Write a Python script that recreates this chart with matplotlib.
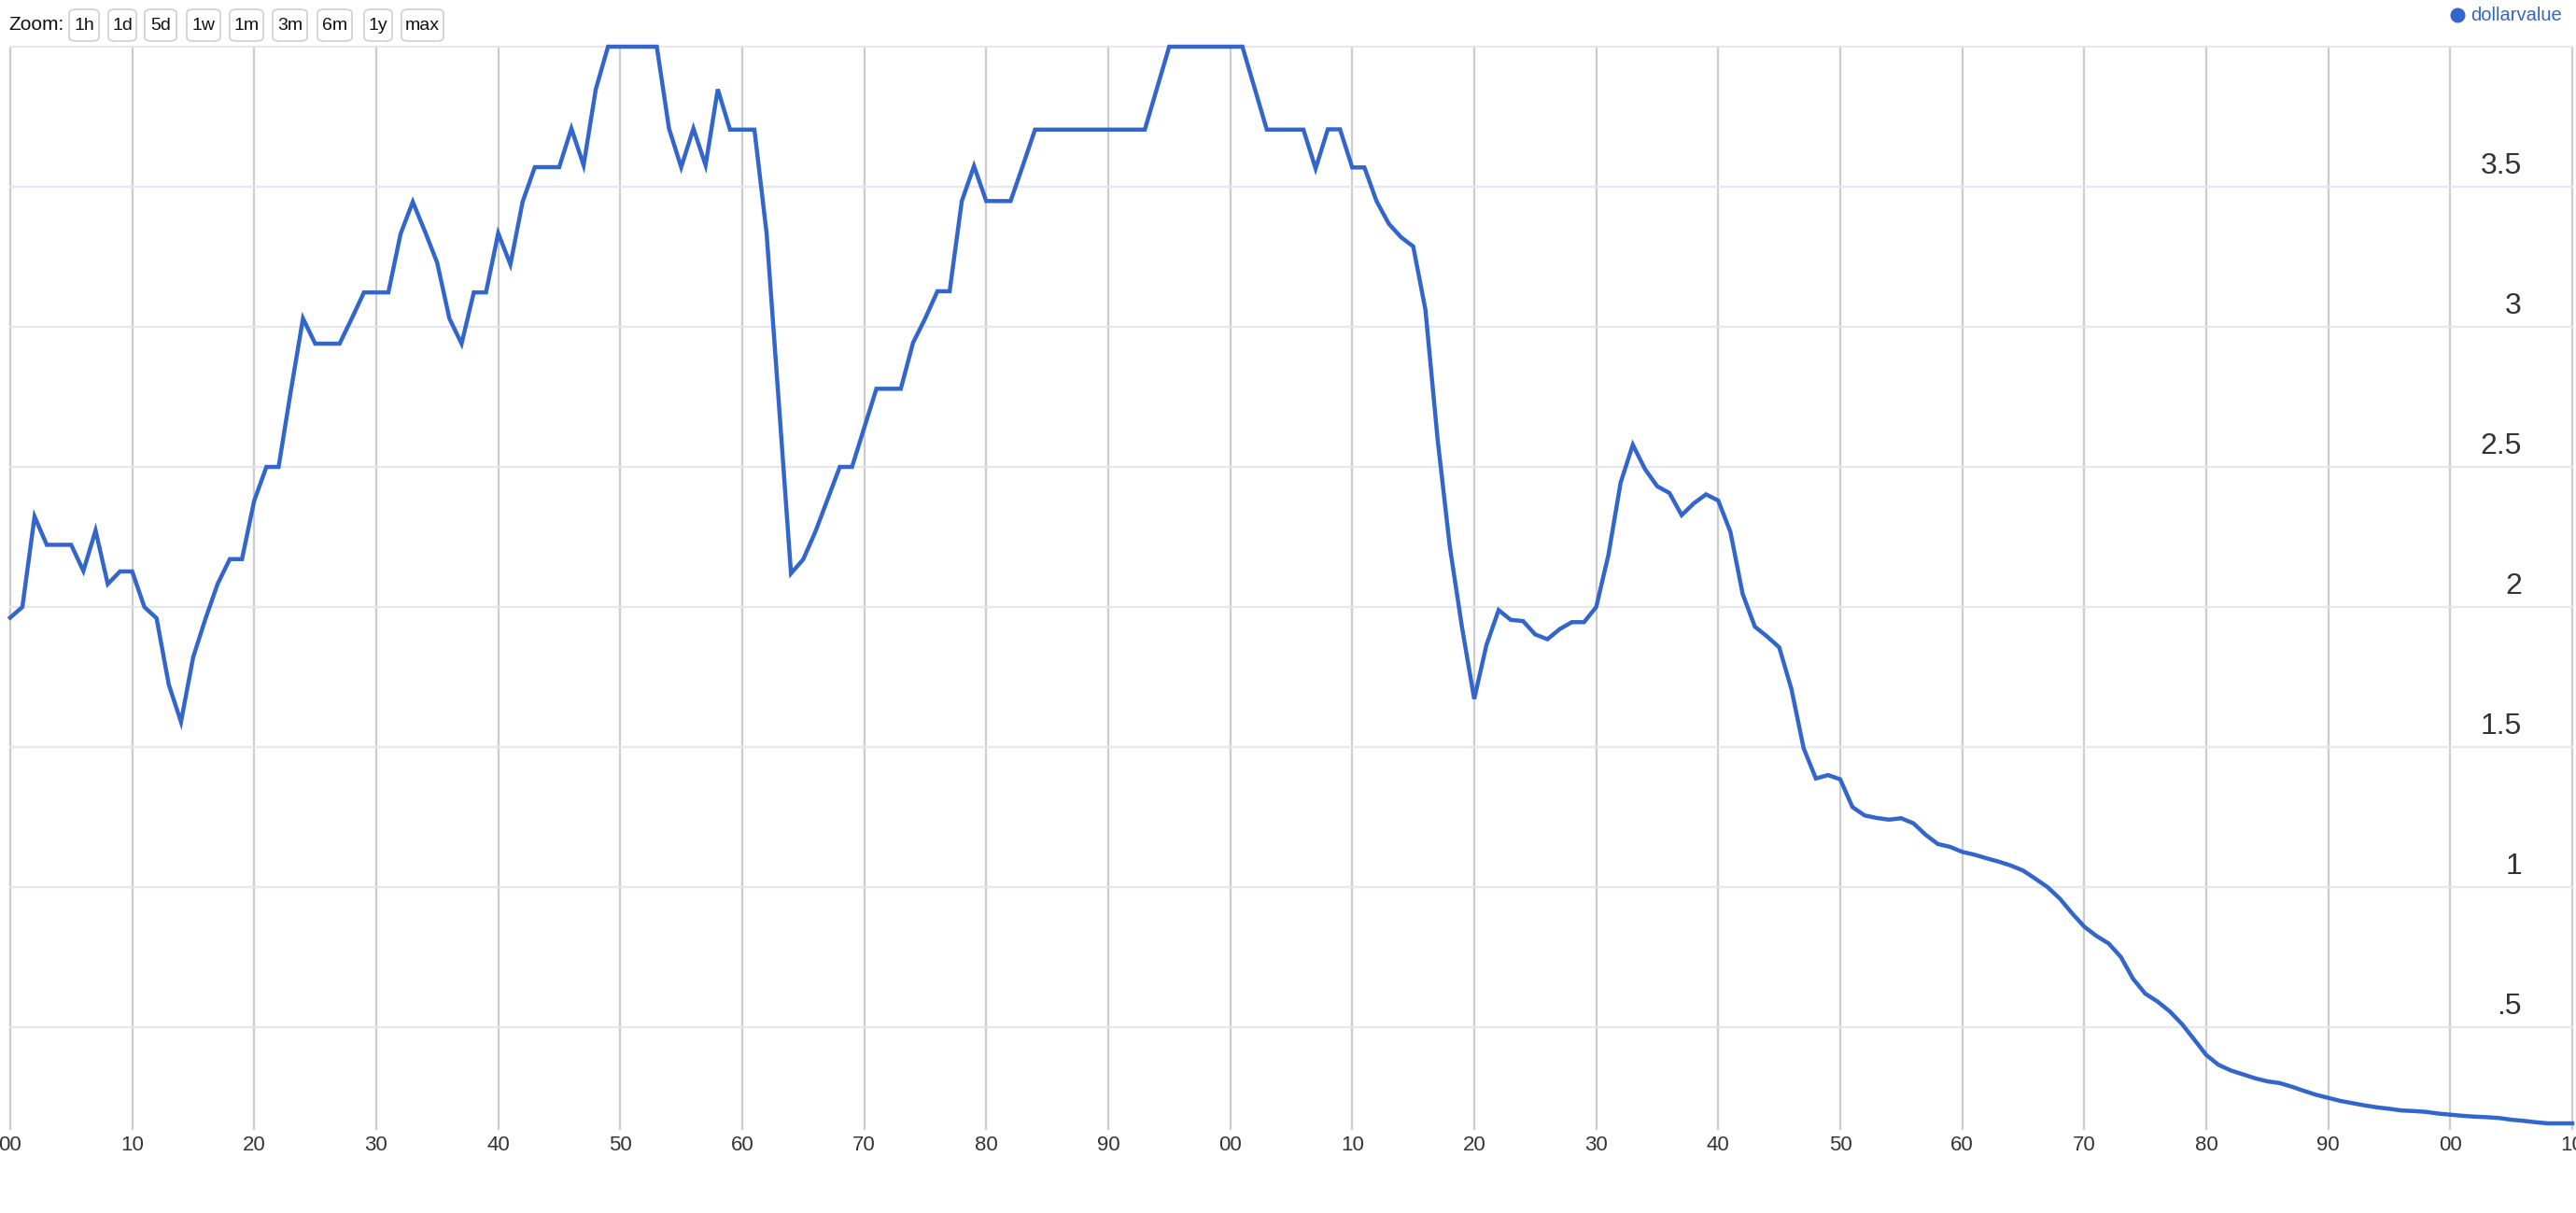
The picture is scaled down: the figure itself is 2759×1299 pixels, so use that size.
import matplotlib
matplotlib.use('Agg')
import matplotlib.pyplot as plt
import matplotlib.transforms as mtransforms
from matplotlib.patches import FancyBboxPatch
from matplotlib.lines import Line2D

plt.rcParams['font.family'] = ['Liberation Sans', 'DejaVu Sans']

# data, one value per year 1800..2010
years = list(range(1800, 2011))
dollar_value = [
    1.962, 2.0, 2.323, 2.222, 2.222, 2.222, 2.129, 2.273, 2.082, 2.127,    # 1800s
    2.127, 2.0, 1.96, 1.723, 1.59, 1.821, 1.957, 2.082, 2.171, 2.171,      # 1810s
    2.379, 2.5, 2.5, 2.77, 3.03, 2.94, 2.94, 2.94, 3.03, 3.123,            # 1820s
    3.123, 3.123, 3.332, 3.446, 3.34, 3.229, 3.03, 2.94, 3.123, 3.123,     # 1830s
    3.334, 3.223, 3.446, 3.57, 3.57, 3.57, 3.708, 3.577, 3.848, 4.0,       # 1840s
    4.0, 4.0, 4.0, 4.0, 3.708, 3.57, 3.708, 3.577, 3.848, 3.704,           # 1850s
    3.704, 3.704, 3.334, 2.73, 2.12, 2.17, 2.269, 2.384, 2.5, 2.5,         # 1860s
    2.64, 2.779, 2.779, 2.779, 2.943, 3.03, 3.127, 3.127, 3.449, 3.574,    # 1870s
    3.449, 3.449, 3.449, 3.575, 3.704, 3.704, 3.704, 3.704, 3.704, 3.704,  # 1880s
    3.704, 3.704, 3.704, 3.704, 3.852, 4.0, 4.0, 4.0, 4.0, 4.0,            # 1890s
    4.0, 4.0, 3.852, 3.704, 3.704, 3.704, 3.704, 3.565, 3.705, 3.705,      # 1900s
    3.569, 3.569, 3.448, 3.368, 3.32, 3.287, 3.061, 2.598, 2.215, 1.927,   # 1910s
    1.672, 1.864, 1.989, 1.954, 1.95, 1.902, 1.885, 1.921, 1.946, 1.946,   # 1920s
    2.0, 2.186, 2.444, 2.579, 2.492, 2.431, 2.407, 2.328, 2.37, 2.402,     # 1930s
    2.38, 2.268, 2.047, 1.93, 1.895, 1.856, 1.707, 1.496, 1.388, 1.40,     # 1940s
    1.385, 1.286, 1.256, 1.247, 1.241, 1.246, 1.228, 1.187, 1.154, 1.144,  # 1950s
    1.126, 1.116, 1.103, 1.091, 1.077, 1.059, 1.03, 1.0, 0.959, 0.907,     # 1960s
    0.859, 0.826, 0.799, 0.751, 0.673, 0.62, 0.592, 0.557, 0.512, 0.457,   # 1970s
    0.401, 0.366, 0.346, 0.332, 0.318, 0.307, 0.301, 0.288, 0.273, 0.259,  # 1980s
    0.248, 0.237, 0.229, 0.221, 0.214, 0.209, 0.203, 0.201, 0.198, 0.192,  # 1990s
    0.188, 0.184, 0.181, 0.179, 0.176, 0.17, 0.166, 0.161, 0.157, 0.157,   # 2000s
    0.157,
]

x_ticks = list(range(1800, 2011, 10))
x_labels = ['00', '10', '20', '30', '40', '50', '60', '70', '80', '90',
            '00', '10', '20', '30', '40', '50', '60', '70', '80', '90',
            '00', '10']
y_grid = [0.5, 1.0, 1.5, 2.0, 2.5, 3.0, 3.5, 4.0]
y_ticks = [0.5, 1.0, 1.5, 2.0, 2.5, 3.0, 3.5]
y_labels = ['.5', '1', '1.5', '2', '2.5', '3', '3.5']
zoom_buttons = ['1h', '1d', '5d', '1w', '1m', '3m', '6m', '1y', 'max']
series_name = 'dollarvalue'

W, H = 2759, 1299
fig = plt.figure(figsize=(W / 100, H / 100), dpi=100)
fig.patch.set_facecolor('white')

# plot area in pixel terms: x 11..2755, y 50..1209
ax = fig.add_axes([10.9 / W, 1 - 1209 / H, (2755 - 10.9) / W, (1209 - 50) / H])
ax.set_xlim(1800, 2010)
ax.set_ylim(0.137, 4.0)
ax.axis('off')

for yr in x_ticks:
    ax.axvline(yr, color='#cccccc', lw=1.6, clip_on=False, zorder=1)
for v in y_grid:
    ax.axhline(v, color='#e6e6f0', lw=1.6, clip_on=False, zorder=1)

ax.plot(years, dollar_value, color='#3366cc', lw=3.2, clip_on=False,
        solid_joinstyle='miter', zorder=3)

# x labels under the axis (the last one runs off the right edge, as in the original)
xtrans = mtransforms.blended_transform_factory(ax.transData, ax.transAxes)
for yr, lab in zip(x_ticks, x_labels):
    ax.text(yr, -0.0147, lab, transform=xtrans, ha='center', va='center',
            fontsize=16, color='#333333', clip_on=False)

# y labels sit above their gridline, on the right side
ytrans = mtransforms.blended_transform_factory(ax.transAxes, ax.transData)
for v, lab in zip(y_ticks, y_labels):
    ax.text(0.9803, v + 0.047, lab, transform=ytrans, ha='right', va='baseline',
            fontsize=23, color='#333333')

# zoom toolbar
fig.text(9 / W, 1 - 27 / H, 'Zoom:', ha='left', va='center', fontsize=15, color='#111111')
btn_left = [74, 116, 155, 200, 246, 292, 340, 390, 430]
btn_right = [106, 146, 189, 236, 282, 329, 377, 420, 475]
for lab, x0, x1 in zip(zoom_buttons, btn_left, btn_right):
    box = FancyBboxPatch((x0 / W, 1 - 44 / H), (x1 - x0) / W, 34 / H,
                         boxstyle='round,pad=0,rounding_size=0.003',
                         transform=fig.transFigure, facecolor='white',
                         edgecolor='#cfcfcf', lw=1.2)
    fig.add_artist(box)
    fig.text((x0 + x1) / 2 / W, 1 - 27 / H, lab, ha='center', va='center',
             fontsize=14, color='#111111')

# legend
fig.add_artist(Line2D([2631.7 / W], [1 - 16 / H], marker='o', markersize=10.5,
                      color='#3366cc', linestyle='none', transform=fig.transFigure))
fig.text(2645.7 / W, 1 - 16 / H, series_name, ha='left', va='center',
         fontsize=14.5, color='#3366cc')

fig.savefig('out.png', dpi=100, facecolor='white')
